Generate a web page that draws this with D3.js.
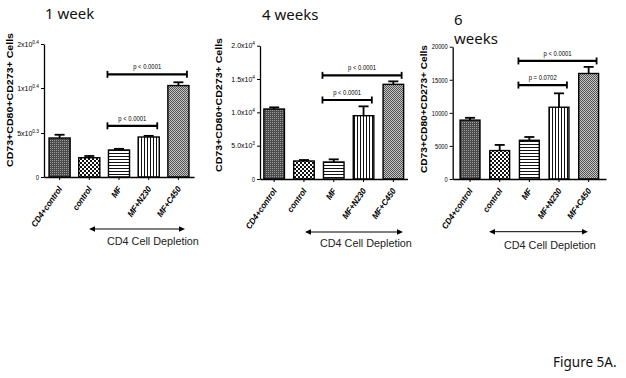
<!DOCTYPE html>
<html>
<head>
<meta charset="utf-8">
<script src="https://cdn.jsdelivr.net/npm/d3@7"></script>
<style>
  body { margin: 0; background: #fff; }
  svg { display: block; font-family: "Liberation Sans", Arial, sans-serif; }
</style>
</head>
<body>
<div id="container"></div>
<script>
// ---- data ----
const groups = ["CD4+control", "control", "MF", "MF+N230", "MF+C450"];

const week1Mean = [4430, 2190, 3070, 4545, 10550];
const week1Err  = [370, 200, 130, 130, 750];
const week4Mean = [10500, 2700, 2550, 9500, 14200];
const week4Err  = [250, 150, 400, 1400, 450];
const week6Mean = [8900, 4300, 5850, 10850, 15950];
const week6Err  = [350, 850, 500, 2100, 1000];

const week1Ticks = [0, 5000, 10000, 20000];
const week1TickLabels = [["0", ""], ["5x10", "0.3"], ["1x10", "0.4"], ["2x10", "0.4"]];
const week4Ticks = [0, 5000, 10000, 15000, 20000];
const week4TickLabels = [["0", ""], ["5.0x10", "3"], ["1.0x10", "4"], ["1.5x10", "4"], ["2.0x10", "4"]];
const week6Ticks = [0, 5000, 10000, 15000, 20000];
const week6TickLabels = [["0", ""], ["5000", ""], ["10000", ""], ["15000", ""], ["20000", ""]];

// comparisons: [from group, to group, bracket level (value), label]
const week1Compare = [[2, 4, 13100, "p < 0.0001"], [2, 3, 5800, "p < 0.0001"]];
const week4Compare = [[2, 4, 15550, "p < 0.0001"], [2, 3, 11850, "p < 0.0001"]];
const week6Compare = [[2, 4, 17850, "p < 0.0001"], [2, 3, 14200, "p = 0.0702"]];

const patternIds = ["pDark", "pCheck", "pHoriz", "pVert", "pLight"];

const width = 626, height = 378;

const svg = d3.select("#container")
  .append("svg")
  .attr("width", width)
  .attr("height", height)
  .attr("viewBox", [0, 0, width, height]);

// fill patterns, like the prism bars
const defs = svg.append("defs");
function pattern(id, w, h, bg, rects) {
  const p = defs.append("pattern").attr("id", id)
    .attr("patternUnits", "userSpaceOnUse").attr("width", w).attr("height", h);
  p.append("rect").attr("width", w).attr("height", h).attr("fill", bg);
  rects.forEach(r => p.append("rect")
    .attr("x", r[0]).attr("y", r[1]).attr("width", r[2]).attr("height", r[3]).attr("fill", r[4]));
}
pattern("pDark", 2, 2, "#4b4b4b", [[0, 0, 1, 1, "#9a9a9a"]]);
pattern("pCheck", 4, 4, "#111", [[0, 0, 2, 2, "#fff"], [2, 2, 2, 2, "#fff"]]);
pattern("pHoriz", 3, 3, "#fff", [[0, 0, 3, 1, "#111"]]);
pattern("pVert", 3, 3, "#fff", [[0, 0, 1, 3, "#111"]]);
pattern("pLight", 2, 2, "#c4c4c4", [[0, 0, 1, 1, "#555"], [1, 1, 1, 1, "#555"]]);

const panels = [
  {
    mean: week1Mean, err: week1Err, ticks: week1Ticks, tickLabels: week1TickLabels, compare: week1Compare,
    yDomain: [0, 5000, 10000, 20000], yRange: [177, 133, 88, 44],
    x0: 44, x1: 194, padIn: 0.29, padOut: 0.17,
    title: [["1 week", 45, 19]], ytitle: [9.5, 100, 134],
    arrow: [89, 185, 229], depl: [107, 245]
  },
  {
    mean: week4Mean, err: week4Err, ticks: week4Ticks, tickLabels: week4TickLabels, compare: week4Compare,
    yDomain: [0, 20000], yRange: [179, 45.7],
    x0: 260, x1: 407.5, padIn: 0.31, padOut: 0.13,
    title: [["4 weeks", 262, 20]], ytitle: [219, 105, 134],
    arrow: [305, 403, 232], depl: [320, 246.5]
  },
  {
    mean: week6Mean, err: week6Err, ticks: week6Ticks, tickLabels: week6TickLabels, compare: week6Compare,
    yDomain: [0, 20000], yRange: [179, 46.7],
    x0: 452.7, x1: 606, padIn: 0.33, padOut: 0.25,
    title: [["6", 454, 25], ["weeks", 454, 44]], ytitle: [424, 109, 128],
    arrow: [489, 588, 231.7], depl: [504, 248.5]
  }
];

// squeeze text horizontally, the figure looks narrowed
function squeeze(sel, k) {
  sel.each(function() {
    const len = this.getComputedTextLength();
    d3.select(this).attr("textLength", len * k).attr("lengthAdjust", "spacingAndGlyphs");
  });
}

panels.forEach(p => {
  const g = svg.append("g");

  const x = d3.scaleBand().domain(groups).range([p.x0, p.x1])
    .paddingInner(p.padIn).paddingOuter(p.padOut);
  const y = d3.scaleLinear().domain(p.yDomain).range(p.yRange);
  const y0 = y(0);

  // bars
  g.selectAll("rect.bar")
    .data(groups)
    .join("rect")
    .attr("class", "bar")
    .attr("x", d => x(d))
    .attr("width", x.bandwidth())
    .attr("y", (d, i) => y(p.mean[i]))
    .attr("height", (d, i) => y0 - y(p.mean[i]))
    .attr("fill", (d, i) => `url(#${patternIds[i]})`)
    .attr("stroke", "#000")
    .attr("stroke-width", 1.4);

  // error bars (upper only)
  const eb = g.selectAll("g.err").data(groups).join("g").attr("class", "err")
    .attr("stroke", "#000").attr("stroke-width", 1.8);
  eb.append("line")
    .attr("x1", d => x(d) + x.bandwidth() / 2).attr("x2", d => x(d) + x.bandwidth() / 2)
    .attr("y1", (d, i) => y(p.mean[i])).attr("y2", (d, i) => y(p.mean[i] + p.err[i]));
  eb.append("line")
    .attr("x1", d => x(d) + x.bandwidth() / 2 - 5).attr("x2", d => x(d) + x.bandwidth() / 2 + 5)
    .attr("y1", (d, i) => y(p.mean[i] + p.err[i])).attr("y2", (d, i) => y(p.mean[i] + p.err[i]));

  // y axis
  const yAxis = g.append("g")
    .attr("transform", `translate(${p.x0},0)`)
    .call(d3.axisLeft(y).tickValues(p.ticks).tickSize(3).tickSizeOuter(0).tickPadding(2));
  yAxis.select(".domain").attr("stroke-width", 1.3);
  yAxis.selectAll(".tick line").attr("stroke-width", 1);
  yAxis.selectAll(".tick text")
    .attr("font-size", 7)
    .attr("font-family", "'Liberation Sans', Arial, sans-serif")
    .text(null)
    .each(function(d, i) {
      const t = d3.select(this);
      const lab = p.tickLabels[i];
      t.append("tspan").text(lab[0]);
      if (lab[1]) t.append("tspan").attr("dy", -3).attr("font-size", 4.8).text(lab[1]);
    });
  yAxis.selectAll(".tick text").filter((d, i) => !p.tickLabels[i][1]).call(squeeze, 0.82);

  // x axis
  const xAxis = g.append("g")
    .attr("transform", `translate(0,${y0})`)
    .call(d3.axisBottom(x).tickSize(3).tickSizeOuter(0).tickFormat(""));
  xAxis.select(".domain").attr("stroke-width", 1.3);

  g.selectAll("text.xlab")
    .data(groups)
    .join("text")
    .attr("class", "xlab")
    .attr("transform", d => `translate(${x(d) + x.bandwidth() / 2 + 3},${y0 + 12}) rotate(-55)`)
    .attr("text-anchor", "end")
    .attr("font-size", 8.6)
    .attr("font-weight", "bold")
    .attr("font-style", "italic")
    .text(d => d)
    .call(squeeze, 0.92);

  // y title
  g.append("text")
    .attr("transform", `translate(${p.ytitle[0] + 3},${p.ytitle[1]}) rotate(-90)`)
    .attr("text-anchor", "middle")
    .attr("font-size", 8.4)
    .attr("font-weight", "bold")
    .attr("textLength", p.ytitle[2])
    .attr("lengthAdjust", "spacingAndGlyphs")
    .text("CD73+CD80+CD273+ Cells");

  // significance brackets
  p.compare.forEach(c => {
    const xa = x(groups[c[0]]) - 1;
    const xb = x(groups[c[1]]) + x.bandwidth() - 2;
    const yb = y(c[2]);
    g.append("line").attr("x1", xa).attr("x2", xb).attr("y1", yb).attr("y2", yb)
      .attr("stroke", "#000").attr("stroke-width", 2.2);
    [xa, xb].forEach(xx => g.append("line")
      .attr("x1", xx).attr("x2", xx).attr("y1", yb - 3.5).attr("y2", yb + 3.5)
      .attr("stroke", "#000").attr("stroke-width", 1.8));
    g.append("text")
      .attr("x", (xa + xb) / 2).attr("y", yb - 5)
      .attr("text-anchor", "middle")
      .attr("font-size", 7.2)
      .text(c[3])
      .call(squeeze, 0.82);
  });

  // double arrow + depletion label
  const [ax0, ax1, ay] = p.arrow;
  g.append("line").attr("x1", ax0 + 4).attr("x2", ax1 - 4).attr("y1", ay).attr("y2", ay)
    .attr("stroke", "#000").attr("stroke-width", 1);
  g.append("path").attr("d", `M${ax0},${ay} l6,-2.8 v5.6 z`).attr("fill", "#000");
  g.append("path").attr("d", `M${ax1},${ay} l-6,-2.8 v5.6 z`).attr("fill", "#000");
  g.append("text")
    .attr("x", p.depl[0]).attr("y", p.depl[1])
    .attr("font-size", 10.8)
    .attr("fill", "#222")
    .text("CD4 Cell Depletion");

  // panel title
  p.title.forEach(t => g.append("text")
    .attr("x", t[1]).attr("y", t[2])
    .attr("font-family", "'Noto Sans', 'Open Sans', sans-serif")
    .attr("font-size", 15)
    .attr("fill", "#111")
    .text(t[0]));
});

svg.append("text")
  .attr("x", 553).attr("y", 367)
  .attr("font-family", "'Noto Sans', 'Open Sans', sans-serif")
  .attr("font-size", 13.5)
  .attr("fill", "#111")
  .text("Figure 5A.");
</script>
</body>
</html>
